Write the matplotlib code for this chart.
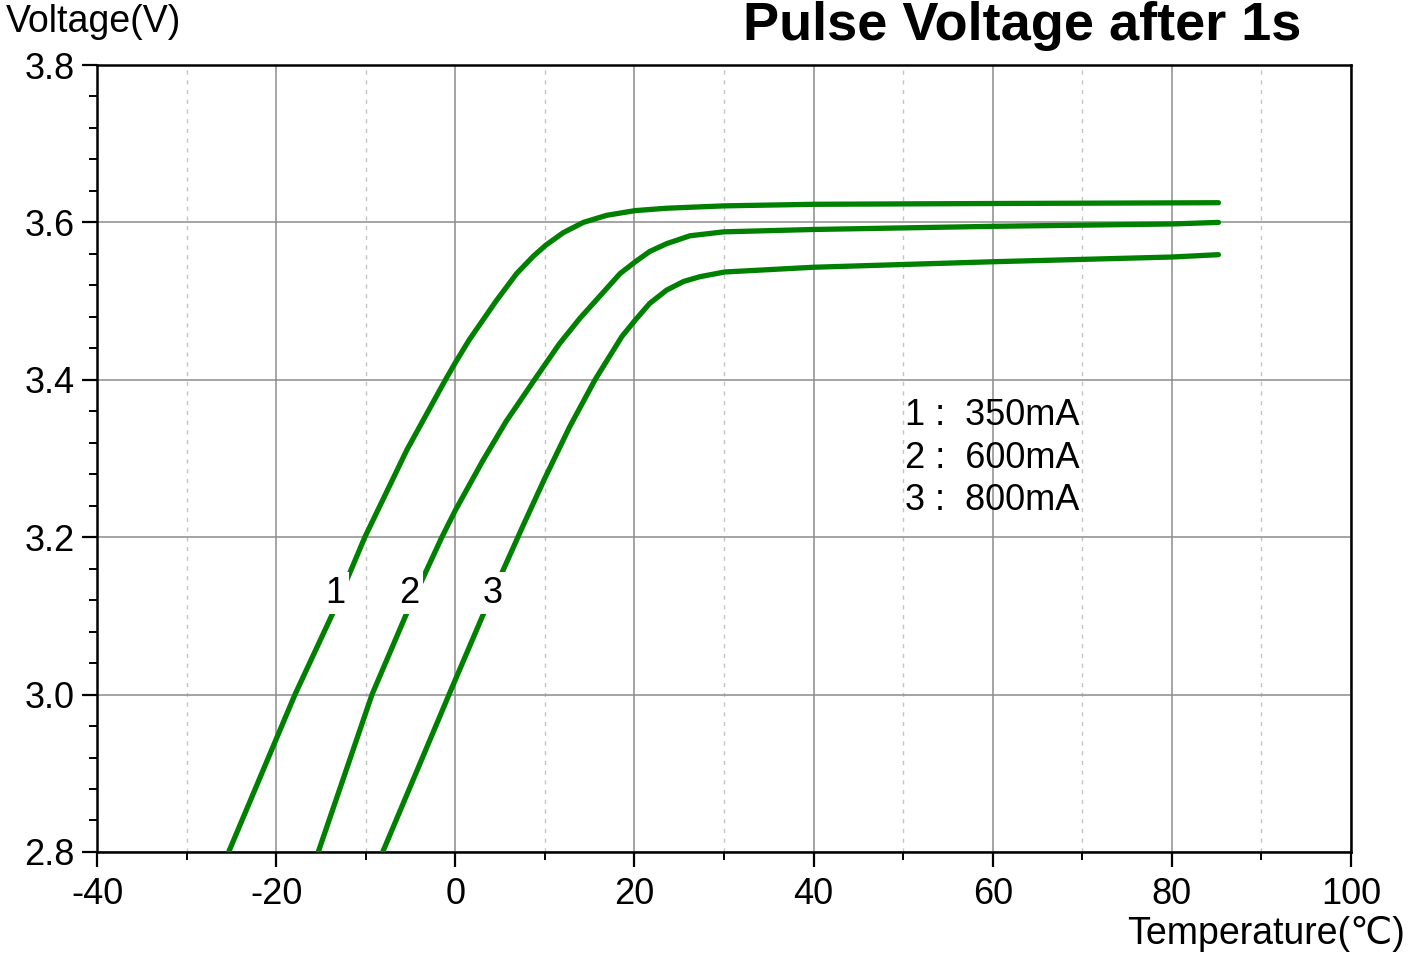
import matplotlib.pyplot as plt
from matplotlib.ticker import MultipleLocator

plt.rcParams['font.family'] = ['Liberation Sans', 'DejaVu Sans']
plt.rcParams['axes.unicode_minus'] = False

# Temperature (C) and pulse voltage (V)
temp_350 = [-25.3, -17.9, -13.65, -10.1, -5.4, -1.1, 0.07, 1.57, 4.55, 6.85, 8.71, 10.1,
            12.06, 14.3, 16.9, 20.1, 23.6, 30, 40, 60, 85.2]
volt_350 = [2.8, 3.0, 3.104, 3.2, 3.311, 3.4, 3.423, 3.451, 3.500, 3.535, 3.557, 3.571,
            3.587, 3.600, 3.609, 3.615, 3.618, 3.621, 3.623, 3.624, 3.625]

temp_600 = [-15.3, -9.3, -5.4, -1.5, 0, 3.06, 5.67, 8.84, 11.64, 13.9, 18.4, 20.1, 21.7,
            23.6, 26.2, 30, 40, 60, 80, 85.2]
volt_600 = [2.8, 3.0, 3.104, 3.2, 3.234, 3.297, 3.347, 3.4, 3.446, 3.478, 3.535, 3.550, 3.563,
            3.573, 3.583, 3.588, 3.591, 3.595, 3.598, 3.600]

temp_800 = [-8.1, -0.7, 3.2, 5.3, 7.54, 9.96, 12.76, 15.6, 18.6, 20.1, 21.7, 23.6, 25.5,
            27.3, 30.1, 40, 60, 80, 85.2]
volt_800 = [2.8, 3.0, 3.104, 3.157, 3.214, 3.274, 3.340, 3.4, 3.455, 3.476, 3.497, 3.514,
            3.525, 3.531, 3.537, 3.543, 3.550, 3.556, 3.559]

curve_tags = ['1', '2', '3']
tag_x = [-13.4, -5.15, 4.2]
tag_y = 3.129
legend_lines = ['1 :  350mA', '2 :  600mA', '3 :  800mA']

fig = plt.figure(figsize=(14.08, 9.63), dpi=100)
ax = fig.add_axes([0.0689, 0.1153, 0.8906, 0.8172])

green = '#008000'
for tx, vy in [(temp_350, volt_350), (temp_600, volt_600), (temp_800, volt_800)]:
    ax.plot(tx, vy, color=green, lw=3.8, solid_capstyle='round', solid_joinstyle='round', zorder=3)

for tag, x in zip(curve_tags, tag_x):
    ax.text(x, tag_y, tag, fontsize=26, ha='center', va='center', zorder=4,
            bbox=dict(facecolor='white', edgecolor='none', pad=2.5))

for i, line in enumerate(legend_lines):
    ax.text(50.2, 3.354 - i * 0.0535, line, fontsize=26, ha='left', va='center')

ax.set_xlim(-40, 100)
ax.set_ylim(2.8, 3.8)
ax.xaxis.set_major_locator(MultipleLocator(20))
ax.xaxis.set_minor_locator(MultipleLocator(10))
ax.yaxis.set_major_locator(MultipleLocator(0.2))
ax.yaxis.set_minor_locator(MultipleLocator(0.04))
ax.set_yticklabels([f'{v:.1f}' for v in ax.get_yticks()])

ax.grid(which='major', color='#8c8c8c', lw=1.1, zorder=0)
ax.grid(which='minor', axis='x', color='#c4c4c4', lw=1.0, ls=(0, (3, 4)), zorder=0)
ax.set_axisbelow(True)

ax.tick_params(which='major', direction='out', length=11, width=1.6, labelsize=26, pad=5)
ax.tick_params(which='minor', direction='out', length=5.5, width=1.4)
ax.tick_params(axis='x', which='major', pad=7)
for s in ax.spines.values():
    s.set_linewidth(1.8)

fig.text(0.004, 0.977, 'Voltage(V)', fontsize=27, ha='left', va='center')
fig.text(0.998, 0.030, 'Temperature(\u2103)', fontsize=27, ha='right', va='center')
fig.text(0.924, 0.973, 'Pulse Voltage after 1s', fontsize=39, fontweight='bold',
         ha='right', va='center')

fig.savefig('out.png', dpi=100)
